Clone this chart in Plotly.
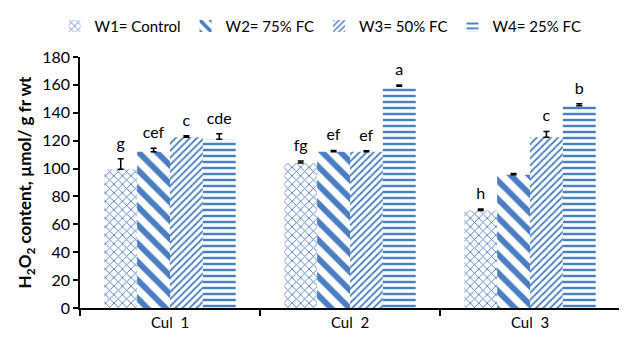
import plotly.graph_objects as go

categories = ["Cul  1", "Cul  2", "Cul  3"]
series_names = ["W1= Control", "W2= 75% FC", "W3= 50% FC", "W4= 25% FC"]
w1 = [99.5, 104, 70]
w2 = [112, 112, 95.5]
w3 = [122.5, 112, 122.5]
w4 = [121, 159, 145]
w1_err = [7.5, 1.5, 1]
w2_err = [2.5, 1, 1]
w3_err = [1, 0.8, 4]
w4_err = [4, 1, 1.5]
w1_lab = ["g", "fg", "h"]
w2_lab = ["cef", "ef", None]
w3_lab = ["c", "ef", "c"]
w4_lab = ["cde", "a", "b"]

values = [w1, w2, w3, w4]
errs = [w1_err, w2_err, w3_err, w4_err]
labels = [w1_lab, w2_lab, w3_lab, w4_lab]

BLUE = "#4A7EC2"
FONT = "Lato"
patterns = [
    dict(shape="x", size=6, solidity=0.28, fgcolor=BLUE, fgopacity=1, bgcolor="white", fillmode="overlay"),
    dict(shape="\\", size=13, solidity=0.45, fgcolor=BLUE, fgopacity=1, bgcolor="white", fillmode="overlay"),
    dict(shape="/", size=5, solidity=0.35, fgcolor=BLUE, fgopacity=1, bgcolor="white", fillmode="overlay"),
    dict(shape="-", size=6, solidity=0.4, fgcolor=BLUE, fgopacity=1, bgcolor="white", fillmode="overlay"),
]

fig = go.Figure()
for j in range(4):
    fig.add_trace(go.Bar(
        x=categories, y=values[j], name=series_names[j],
        offsetgroup=str(j),
        marker=dict(color="white", line=dict(width=0), pattern=patterns[j]),
        error_y=dict(type="data", symmetric=False, array=errs[j],
                     arrayminus=[0] * 3, color="black", thickness=1.5, width=3),
    ))
for j in range(4):
    tops = [v + e for v, e in zip(values[j], errs[j])]
    fig.add_trace(go.Bar(
        x=categories, y=[3] * 3, base=tops, offsetgroup=str(j),
        marker=dict(color="rgba(0,0,0,0)", line=dict(width=0)),
        text=labels[j], textposition="outside", constraintext="none",
        textfont=dict(family=FONT, size=16, color="black"),
        cliponaxis=False, showlegend=False, hoverinfo="skip",
    ))

fig.update_layout(
    width=619, height=331,
    margin=dict(l=72, r=7, t=49, b=31, autoexpand=False),
    barmode="group", bargap=0.27, bargroupgap=0,
    plot_bgcolor="white", paper_bgcolor="white",
    font=dict(family=FONT, size=15, color="black"),
    legend=dict(orientation="h", xref="container", x=0.505, xanchor="center",
                yref="container", y=0.945, yanchor="middle",
                font=dict(family=FONT, size=15), itemwidth=30),
    showlegend=True,
)
fig.update_xaxes(
    type="category", showline=True, linecolor="black", linewidth=1.5,
    ticks="outside", tickson="boundaries", ticklen=6, tickcolor="black", tickwidth=1.5,
    tickfont=dict(family=FONT, size=15), automargin=False,
)
fig.update_yaxes(
    range=[0, 180], dtick=20, showgrid=False, zeroline=False,
    showline=True, linecolor="black", linewidth=1.5,
    ticks="outside", ticklen=5, tickcolor="black", tickwidth=1.5,
    tickfont=dict(family=FONT, size=16), automargin=False,
    title=dict(text="H<sub>2</sub>O<sub>2</sub> content, µmol/ g fr wt",
               font=dict(family=FONT, size=17, weight="bold"), standoff=6),
)
fig.write_html("out.html")
